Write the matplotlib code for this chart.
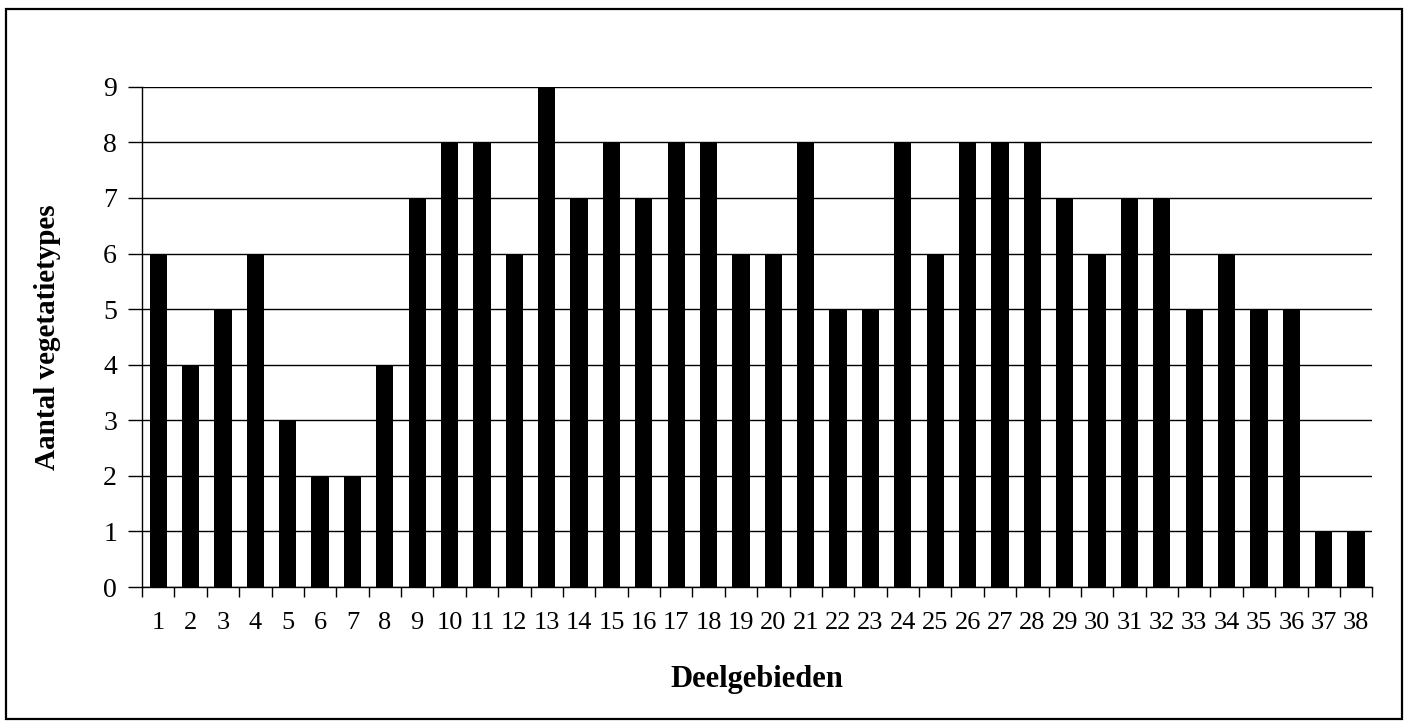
import numpy as np
import matplotlib.pyplot as plt
from matplotlib.patches import Rectangle

# Aantal vegetatietypes per deelgebied
deelgebieden = [str(i) for i in range(1, 39)]
aantal = [6, 4, 5, 6, 3, 2, 2, 4, 7, 8,
          8, 6, 9, 7, 8, 7, 8, 8, 6, 6,
          8, 5, 5, 8, 6, 8, 8, 8, 7, 6,
          7, 7, 5, 6, 5, 5, 1, 1]
y_ticks = list(range(0, 10))

plt.rcParams['font.family'] = ['Liberation Serif', 'DejaVu Serif']

fig = plt.figure(figsize=(14.06, 7.23), dpi=100)
ax = fig.add_axes([0.101, 0.188, 0.875, 0.692])

x = np.arange(len(aantal))
ax.bar(x, aantal, width=0.53, color='black', zorder=3)

ax.set_xlim(-0.5, len(aantal) - 0.5)
ax.set_ylim(0, 9)
ax.set_yticks(y_ticks)
ax.set_yticklabels([str(v) for v in y_ticks], fontsize=20)
ax.set_xticks(x)
ax.set_xticklabels(deelgebieden, fontsize=19)
ax.tick_params(axis='x', length=0, pad=18)
ax.tick_params(axis='y', length=10, width=1, pad=8)

# tick marks between categories
ax.set_xticks(np.arange(-0.5, len(aantal)), minor=True)
ax.tick_params(axis='x', which='minor', length=7, width=1)

ax.yaxis.grid(True, color='black', linewidth=1, zorder=0)
for side in ['top', 'right']:
    ax.spines[side].set_visible(False)
ax.spines['left'].set_linewidth(1)
ax.spines['bottom'].set_linewidth(1)

ax.set_xlabel('Deelgebieden', fontsize=22, fontweight='bold', labelpad=22)
ax.set_ylabel('Aantal vegetatietypes', fontsize=21, fontweight='bold', labelpad=30)

# frame around the whole chart
fig.patches.append(Rectangle((0.004, 0.005), 0.993, 0.983, transform=fig.transFigure,
                             fill=False, edgecolor='black', linewidth=1.6))

fig.savefig('out.png', dpi=100)
